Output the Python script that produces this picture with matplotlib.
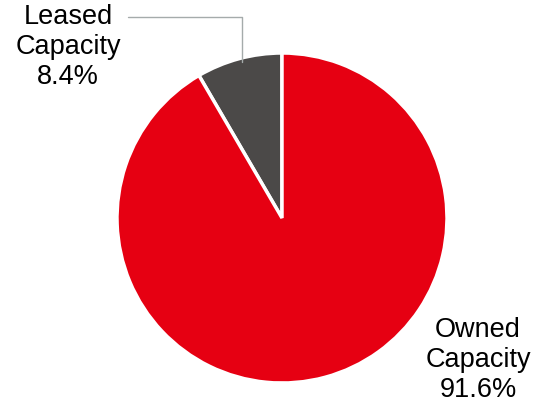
import matplotlib.pyplot as plt
import numpy as np

plt.rcParams['font.family'] = ['Liberation Sans', 'DejaVu Sans']

# données
labels = ['Leased\nCapacity', 'Owned\nCapacity']
shares = [8.4, 91.6]
colors = ['#4b4948', '#e60012']

W, H = 536, 409
fig = plt.figure(figsize=(W / 100, H / 100), dpi=100)
ax = fig.add_axes([0, 0, 1, 1])

cx, cy, r = 282, H - 218, 165
wedges, _ = ax.pie(shares, colors=colors, startangle=90, counterclock=True,
                   center=(cx, cy), radius=r, frame=True,
                   wedgeprops=dict(edgecolor='white', linewidth=2.5))
ax.set_xlim(0, W)
ax.set_ylim(0, H)
ax.axis('off')

# étiquette "Leased" avec ligne de rappel
w = wedges[0]
mid = np.deg2rad((w.theta1 + w.theta2) / 2)
px, py = cx + r * np.cos(mid), cy + r * np.sin(mid)
ax.annotate(f'{labels[0]}\n{shares[0]:.1f}%', xy=(px + 3, py - 3), xytext=(68, H - 47),
            ha='center', va='center', fontsize=19.5, linespacing=1.2,
            arrowprops=dict(arrowstyle='-', color='#a5abab', lw=1,
                            connectionstyle='angle,angleA=0,angleB=90,rad=0',
                            relpos=(1.0, 0.85), shrinkA=3, shrinkB=0))

# étiquette "Owned"
ax.text(478, H - 360, f'{labels[1]}\n{shares[1]:.1f}%', ha='center', va='center',
        fontsize=19.5, linespacing=1.2)

fig.savefig('out.png', dpi=100)
